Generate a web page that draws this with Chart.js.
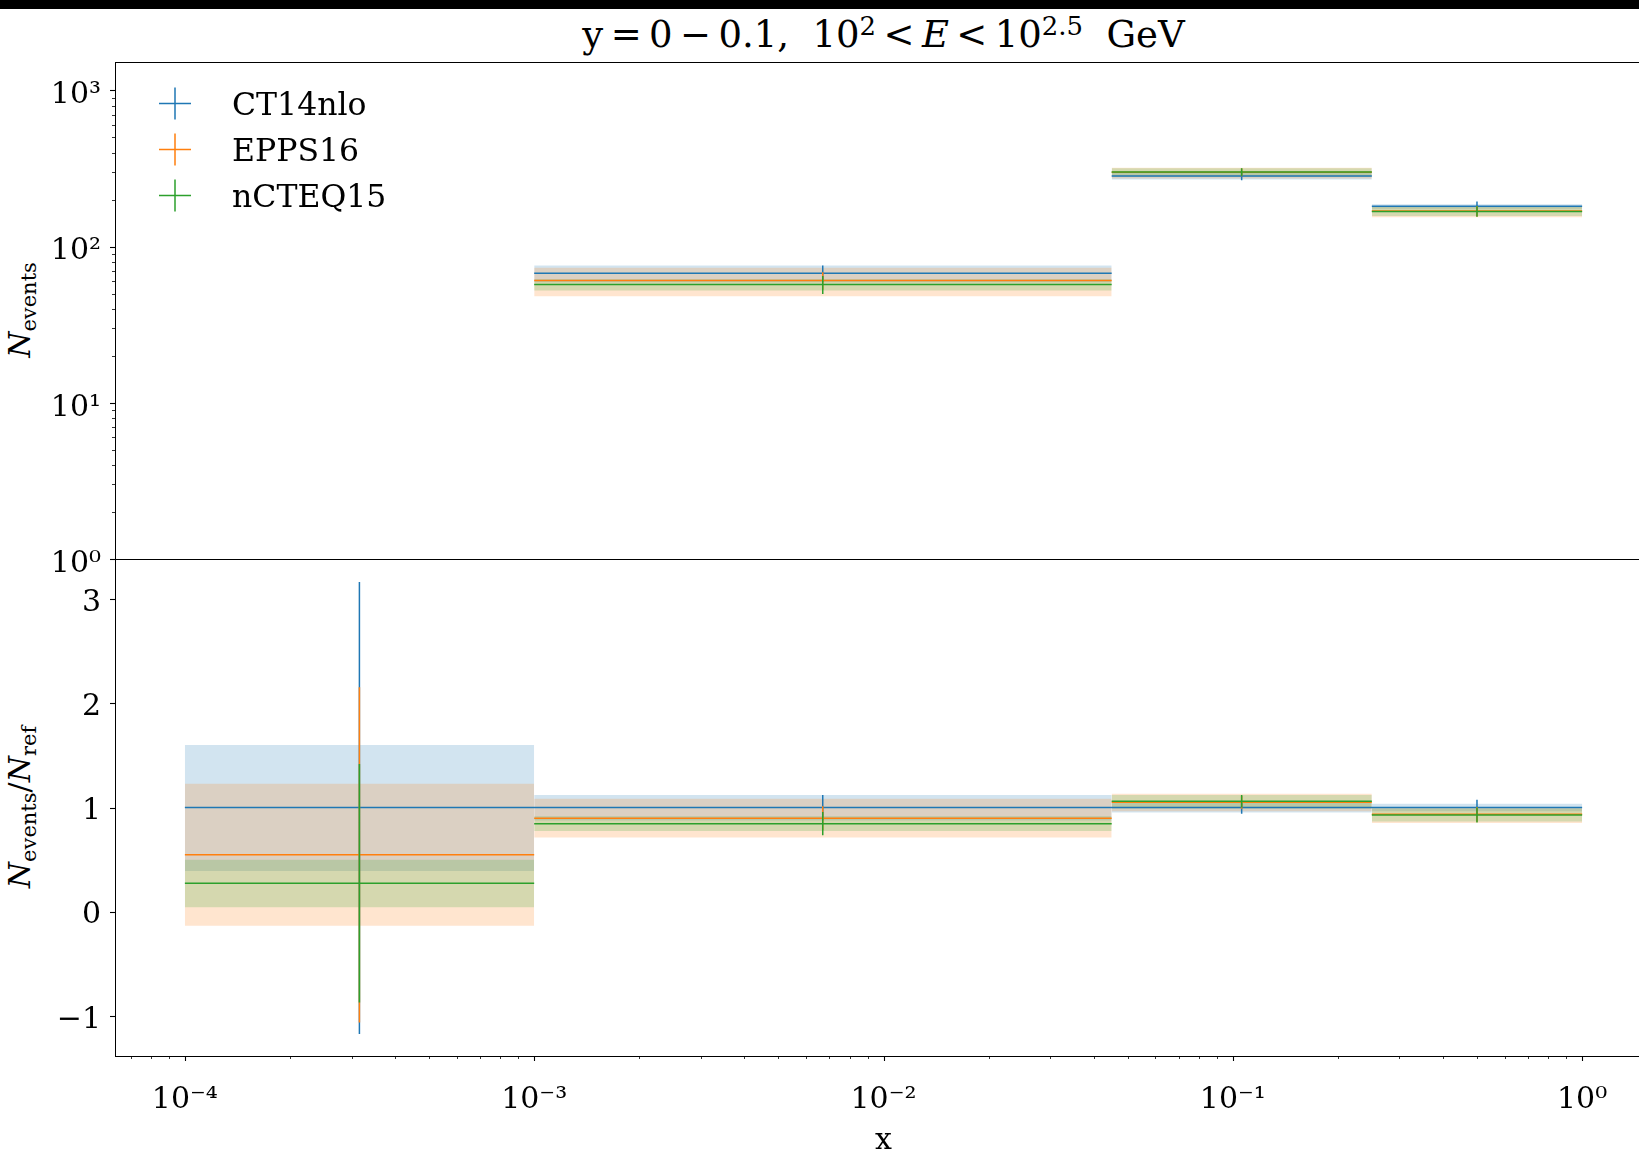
<!DOCTYPE html>
<html>
<head>
<meta charset="utf-8">
<script src="https://cdn.jsdelivr.net/npm/chart.js@4.4.1/dist/chart.umd.min.js"></script>
<style>
  html, body { margin: 0; padding: 0; background: #fff; }
  body { width: 1639px; height: 1162px; position: relative; overflow: hidden; font-family: "DejaVu Serif", serif; color: #000; }
  #band { position: absolute; left: 0; top: 0; width: 1639px; height: 9px; background: #000; }
  canvas { position: absolute; left: 0; }
  #topChart { top: 0; }
  #bottomChart { top: 520px; }
  .title { position: absolute; left: 0; width: 1767px; top: 16px; text-align: center; font-size: 37px; line-height: 1; white-space: nowrap; }
  .title .op { margin: 0 0.2em; }
  sup { font-size: 70%; line-height: 0; vertical-align: 0.45em; }
  sub { font-size: 70%; line-height: 0; vertical-align: -0.3em; }
  .ylabel { position: absolute; font-size: 30px; line-height: 1; white-space: nowrap; transform: translate(-50%, -50%) rotate(-90deg); }
</style>
</head>
<body>
<div id="band"></div>
<div class="title">y<span class="op">=</span>0<span class="op">−</span>0.1,&nbsp; 10<sup>2</sup><span class="op">&lt;</span><i>E</i><span class="op">&lt;</span>10<sup>2.5</sup>&nbsp; GeV</div>
<div class="ylabel" style="left:20px; top:310px"><i>N</i><sub>events</sub></div>
<div class="ylabel" style="left:20px; top:807px"><i>N</i><sub>events</sub>/<i>N</i><sub>ref</sub></div>
<canvas id="topChart" width="1660" height="600"></canvas>
<canvas id="bottomChart" width="1660" height="642"></canvas>
<script>
// ---- x bins ----
const binEdges   = [1e-4, 1e-3, 0.045, 0.25, 1];
const binCenters = [3.16e-4, 6.7e-3, 0.106, 0.5];

const seriesNames = ['CT14nlo', 'EPPS16', 'nCTEQ15'];

// ---- upper panel: N_events (first bin is below 10^0, so not on the plot) ----
const ct14N      = [null, 67.6, 283, 181];
const ct14NBand  = [null, [59.2, 75.8], [269, 296], [175, 187]];
const ct14NErr   = [null, [59.4, 75.8], [266, 300], [167.5, 194.5]];
const eppsN      = [null, 60.7, 299, 169];
const eppsNBand  = [null, [48.1, 73.2], [273, 320], [154, 181]];
const eppsNErr   = [null, [52.9, 68.5], [282, 316], [156, 182]];
const ncteqN     = [null, 57.3, 300, 168];
const ncteqNBand = [null, [52.4, 61.9], [280, 317], [157, 179]];
const ncteqNErr  = [null, [49.7, 64.9], [283, 317], [155, 181]];

// ---- lower panel: N_events / N_ref ----
const ct14R      = [1.0, 1.0, 1.0, 1.0];
const ct14RBand  = [[0.391, 1.601], [0.876, 1.121], [0.951, 1.045], [0.965, 1.035]];
const ct14RErr   = [[-1.175, 3.167], [0.878, 1.121], [0.94, 1.06], [0.926, 1.074]];
const eppsR      = [0.545, 0.897, 1.05, 0.934];
const eppsRBand  = [[-0.137, 1.227], [0.711, 1.083], [0.965, 1.131], [0.85, 1.0]];
const eppsRErr   = [[-1.066, 2.156], [0.782, 1.012], [0.989, 1.111], [0.862, 1.006]];
const ncteqR     = [0.272, 0.845, 1.06, 0.927];
const ncteqRBand = [[0.042, 0.497], [0.775, 0.915], [0.99, 1.12], [0.865, 0.99]];
const ncteqRErr  = [[-0.874, 1.419], [0.733, 0.957], [0.999, 1.121], [0.856, 1.0]];

// ---- ticks ----
const xTicks         = [1e-4, 1e-3, 1e-2, 1e-1, 1];
const xTickLabels    = ['10⁻⁴', '10⁻³', '10⁻²', '10⁻¹', '10⁰'];
const yTopTicks      = [1, 10, 100, 1000];
const yTopTickLabels = ['10⁰', '10¹', '10²', '10³'];
const yBotTicks      = [-1, 0, 1, 2, 3];
const yBotTickLabels = ['−1', '0', '1', '2', '3'];

const colors     = ['#1f77b4', '#ff7f0e', '#2ca02c'];
const bandColors = ['rgba(31,119,180,0.2)', 'rgba(255,127,14,0.2)', 'rgba(44,160,44,0.2)'];

const X_MIN = Math.pow(10, -4.2), X_MAX = Math.pow(10, 0.2);

Chart.defaults.font.family = '"DejaVu Serif", serif';
Chart.defaults.font.size = 30;
Chart.defaults.color = '#000';

// log ticks: labelled decades plus unlabelled 2..9 minors
function logTicks(majors, lo, hi) {
    const out = [];
    for (let d = Math.floor(Math.log10(lo)); d <= Math.ceil(Math.log10(hi)); d++) {
        for (let m = 1; m <= 9; m++) {
            const v = m * Math.pow(10, d);
            if (v >= lo * 0.9999 && v <= hi * 1.0001) out.push({value: v, major: m === 1});
        }
    }
    return out;
}
function labelFor(value, majors, labels) {
    const i = majors.findIndex(m => Math.abs(m - value) <= Math.abs(m) * 1e-6 + 1e-9);
    return i < 0 ? '' : labels[i];
}

function buildDatasets(centers, bands, errors) {
    const sets = [];
    // shaded bands, one pair of lines per bin (blue painted first, green last)
    bands.forEach((b, s) => {
        b.forEach((r, i) => {
            if (!r) return;
            sets.push({data: [{x: binEdges[i], y: r[1]}, {x: binEdges[i + 1], y: r[1]}],
                fill: '+1', backgroundColor: bandColors[s], borderColor: 'transparent', borderWidth: 0, order: 20 - s});
            sets.push({data: [{x: binEdges[i], y: r[0]}, {x: binEdges[i + 1], y: r[0]}],
                fill: false, borderColor: 'transparent', borderWidth: 0, order: 20 - s});
        });
    });
    // horizontal bars across each bin and vertical error bars at bin centre
    centers.forEach((vals, s) => {
        const h = [], v = [];
        vals.forEach((y, i) => {
            if (y == null) return;
            h.push({x: binEdges[i], y: y}, {x: binEdges[i + 1], y: y}, {x: binEdges[i + 1], y: null});
        });
        errors[s].forEach((r, i) => {
            if (!r) return;
            v.push({x: binCenters[i], y: r[0]}, {x: binCenters[i], y: r[1]}, {x: binCenters[i], y: null});
        });
        sets.push({label: seriesNames[s], data: h, borderColor: colors[s], borderWidth: 1.5, fill: false, order: 3 - s});
        sets.push({data: v, borderColor: colors[s], borderWidth: 1.5, fill: false, order: 3 - s});
    });
    return sets;
}

// frame + outward tick marks (major longer than minor)
const axesFrame = {
    id: 'axesFrame',
    afterDraw(chart) {
        const ctx = chart.ctx, a = chart.chartArea;
        ctx.save();
        ctx.strokeStyle = '#000';
        ctx.lineWidth = 1;
        ctx.strokeRect(Math.round(a.left) + 0.5, Math.round(a.top) + 0.5,
            Math.round(a.right - a.left), Math.round(a.bottom - a.top));
        Object.values(chart.scales).forEach(scale => {
            if (!scale.options.display) return;
            scale.ticks.forEach(t => {
                const major = scale.type !== 'logarithmic' || t.major;
                const len = major ? 5 : 3;
                ctx.lineWidth = major ? 1.1 : 0.8;
                const p = Math.round(scale.getPixelForValue(t.value)) + 0.5;
                ctx.beginPath();
                if (scale.axis === 'x') {
                    ctx.moveTo(p, Math.round(a.bottom)); ctx.lineTo(p, Math.round(a.bottom) + len);
                } else {
                    ctx.moveTo(Math.round(a.left), p); ctx.lineTo(Math.round(a.left) - len, p);
                }
                ctx.stroke();
            });
        });
        ctx.restore();
    }
};

// errorbar-style legend (crosses) in the upper left corner
const crossLegend = {
    id: 'crossLegend',
    afterDraw(chart) {
        const ctx = chart.ctx, a = chart.chartArea;
        ctx.save();
        seriesNames.forEach((name, s) => {
            const cy = a.top + 41.5 + s * 46;
            const cx = a.left + 60;
            ctx.strokeStyle = colors[s];
            ctx.lineWidth = 1.5;
            ctx.beginPath();
            ctx.moveTo(cx - 16, cy); ctx.lineTo(cx + 16, cy);
            ctx.moveTo(cx, cy - 16); ctx.lineTo(cx, cy + 16);
            ctx.stroke();
            ctx.fillStyle = '#000';
            ctx.font = '31.5px "DejaVu Serif"';
            ctx.textBaseline = 'alphabetic';
            ctx.fillText(name, a.left + 117, cy + 11.5);
        });
        ctx.restore();
    }
};

const common = {
    responsive: false,
    animation: false,
    events: [],
    spanGaps: false,
    elements: {point: {radius: 0}, line: {tension: 0}},
    plugins: {legend: {display: false}, tooltip: {enabled: false}}
};

// 1. upper panel
new Chart(document.getElementById('topChart'), {
    type: 'line',
    data: {datasets: buildDatasets([ct14N, eppsN, ncteqN], [ct14NBand, eppsNBand, ncteqNBand], [ct14NErr, eppsNErr, ncteqNErr])},
    options: Object.assign({}, common, {
        layout: {padding: {top: 62, right: 8, bottom: 41, left: 0}},
        scales: {
            x: {type: 'logarithmic', min: X_MIN, max: X_MAX, display: false},
            y: {
                type: 'logarithmic', min: 1, max: 1520,
                afterFit: s => { s.width = 115; },
                afterBuildTicks: s => { s.ticks = logTicks(yTopTicks, 1, 1520); },
                grid: {display: false}, border: {display: false},
                ticks: {autoSkip: false, padding: 6, labelOffset: 5,
                    callback: v => labelFor(v, yTopTicks, yTopTickLabels)}
            }
        }
    }),
    plugins: [axesFrame, crossLegend]
});

// 2. lower panel (ratio)
new Chart(document.getElementById('bottomChart'), {
    type: 'line',
    data: {datasets: buildDatasets([ct14R, eppsR, ncteqR], [ct14RBand, eppsRBand, ncteqRBand], [ct14RErr, eppsRErr, ncteqRErr])},
    options: Object.assign({}, common, {
        layout: {padding: {top: 39, right: 8, bottom: 0, left: 0}},
        scales: {
            x: {
                type: 'logarithmic', min: X_MIN, max: X_MAX,
                afterFit: s => { s.height = 106; },
                afterBuildTicks: s => { s.ticks = logTicks(xTicks, X_MIN, X_MAX); },
                grid: {display: false}, border: {display: false},
                ticks: {autoSkip: false, maxRotation: 0, minRotation: 0, padding: 18,
                    callback: v => labelFor(v, xTicks, xTickLabels)},
                title: {display: true, text: 'x', padding: {top: 0, bottom: 3}}
            },
            y: {
                type: 'linear', min: -1.387, max: 3.387,
                afterFit: s => { s.width = 115; },
                afterBuildTicks: s => { s.ticks = yBotTicks.map(v => ({value: v})); },
                grid: {display: false}, border: {display: false},
                ticks: {autoSkip: false, padding: 6, labelOffset: 4,
                    callback: v => labelFor(v, yBotTicks, yBotTickLabels)}
            }
        }
    }),
    plugins: [axesFrame]
});
</script>
</body>
</html>
